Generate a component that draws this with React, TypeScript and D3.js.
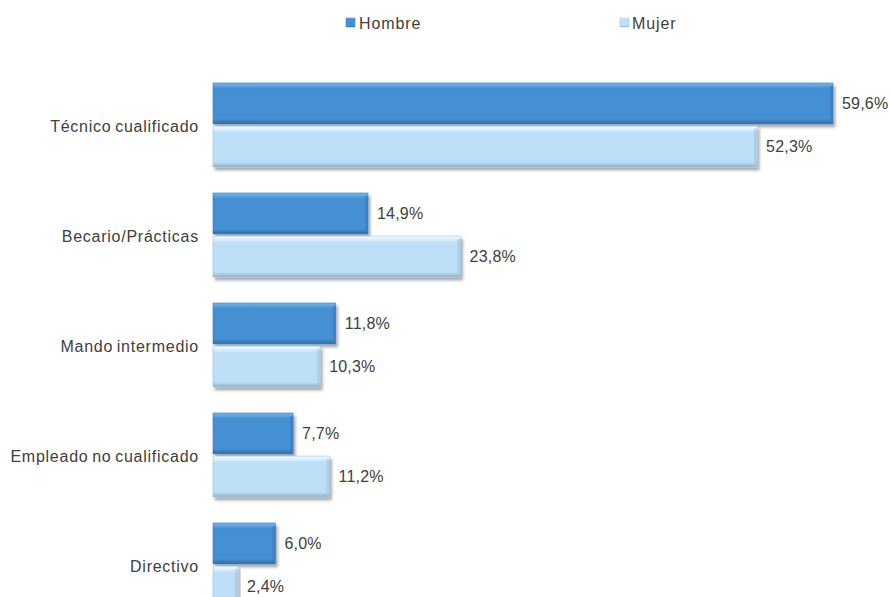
import React from "react";
import * as d3 from "d3";

const categories = ["Técnico cualificado", "Becario/Prácticas", "Mando intermedio", "Empleado no cualificado", "Directivo"];
const series = ["Hombre", "Mujer"];
const hombre = [59.6, 14.9, 11.8, 7.7, 6.0];
const mujer = [52.3, 23.8, 10.3, 11.2, 2.4];

const W = 890, H = 597;
const colors: Record<string, string> = { Hombre: "hombre", Mujer: "mujer" };

export default function App() {
  const x = d3.scaleLinear().domain([0, 59.6]).range([213, 833]);
  const y = d3.scaleBand<string>().domain(categories).range([78, 628]).padding(0);
  const yi = d3.scaleBand<string>().domain(series).range([5, 89]).paddingInner(0.05);
  const fmt = (v: number) => v.toFixed(1).replace(".", ",") + "%";
  const font = "'Liberation Sans', Arial, sans-serif";
  const data = [hombre, mujer];
  return (
    <svg width={W} height={H} style={{ position: "absolute", left: 0, top: 0, background: "#fff" }} fontFamily={font}>
      <defs>
        <linearGradient id="hombre" x1="0" y1="0" x2="0" y2="1">
          <stop offset="0" stopColor="#79b8ec" />
          <stop offset="0.08" stopColor="#5aa0de" />
          <stop offset="0.14" stopColor="#4590d3" />
          <stop offset="0.88" stopColor="#4590d3" />
          <stop offset="1" stopColor="#2f6aa6" />
        </linearGradient>
        <linearGradient id="mujer" x1="0" y1="0" x2="0" y2="1">
          <stop offset="0" stopColor="#f4fbff" />
          <stop offset="0.1" stopColor="#d4ecfb" />
          <stop offset="0.16" stopColor="#bcdff7" />
          <stop offset="0.88" stopColor="#bcdff7" />
          <stop offset="1" stopColor="#8fb0c8" />
        </linearGradient>
        <filter id="shadow" x="-5%" y="-10%" width="115%" height="140%">
          <feDropShadow dx="2" dy="3" stdDeviation="1.5" floodColor="#000" floodOpacity="0.35" />
        </filter>
      </defs>
      {/* legend */}
      <rect x={346} y={18} width={9} height={9} fill="url(#hombre)" stroke="#3a7cbd" strokeWidth={0.5} />
      <text x={359} y={29} fontSize={16} letterSpacing={0.9} fill="#404040">Hombre</text>
      <rect x={620} y={18} width={9} height={9} fill="url(#mujer)" stroke="#9ab8d0" strokeWidth={0.5} />
      <text x={632} y={29} fontSize={16} letterSpacing={0.9} fill="#404040">Mujer</text>
      {categories.map((c, i) => {
        const top = y(c)!;
        return (
          <g key={c}>
            <text x={199} y={top + 48} dy="0.35em" textAnchor="end" fontSize={16} letterSpacing={0.75} wordSpacing={-1.5} fill="#404040">{c}</text>
            {series.map((s, j) => {
              const v = data[j][i];
              const by = top + yi(s)!;
              const bh = yi.bandwidth();
              const w = x(v) - x(0);
              return (
                <g key={s}>
                  <rect x={x(0)} y={by} width={w} height={bh} fill={`url(#${colors[s]})`} filter="url(#shadow)"
                    stroke={s === "Hombre" ? "#3b7ab8" : "#a5c3d9"} strokeWidth={0.6} />
                  <rect x={x(0) + w - 3} y={by + 3} width={3} height={bh - 6} fill={s === "Hombre" ? "#3a7cbd" : "#a7c9e2"} opacity={0.7} />
                  <text x={x(v) + 9} y={by + bh / 2} dy="0.35em" fontSize={16} letterSpacing={0.2} fill="#404040">{fmt(v)}</text>
                </g>
              );
            })}
          </g>
        );
      })}
    </svg>
  );
}
